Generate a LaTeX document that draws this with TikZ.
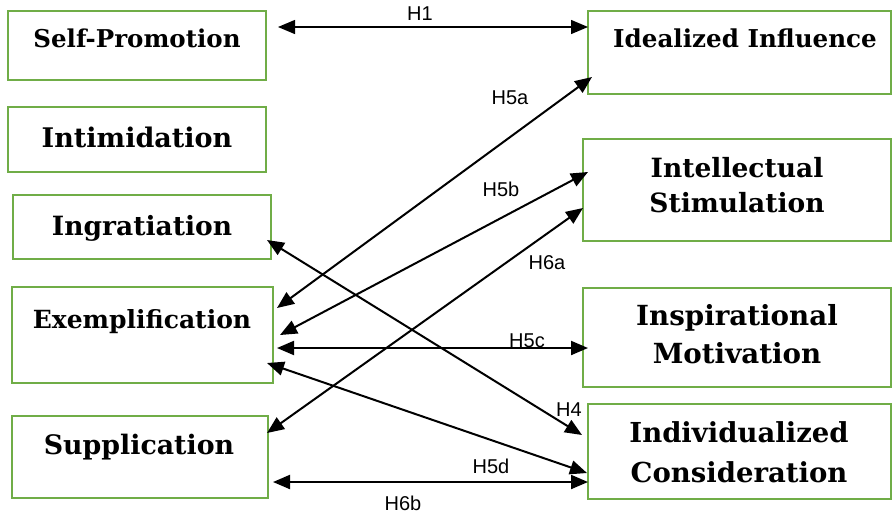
\documentclass[tikz,border=0pt]{standalone}
\usepackage{fontspec}
\setmainfont{DejaVu Serif}
\newfontfamily\lblfont{Liberation Sans}
\usetikzlibrary{arrows.meta,calc}
\definecolor{boxgreen}{HTML}{70AD47}
\begin{document}
\begin{tikzpicture}[x=1pt,y=-1pt,
  box/.style={draw=boxgreen, line width=2pt, inner sep=0pt, outer sep=0pt, anchor=north west},
  ttl/.style={anchor=base, inner sep=0pt, align=center},
  hyp/.style={font=\lblfont\fontsize{20}{22}\selectfont, inner sep=0pt},
  link/.style={line width=2pt, {Triangle[length=17pt,width=14pt]}-{Triangle[length=17pt,width=14pt]}},
]
\useasboundingbox (0,0) rectangle (893,515);
% left boxes
\node[box, minimum width=258pt, minimum height=69pt] (sp) at (8,11) {};
\node[box, minimum width=258pt, minimum height=65pt] (im) at (8,107) {};
\node[box, minimum width=258pt, minimum height=64pt] (ig) at (13,195) {};
\node[box, minimum width=261pt, minimum height=96pt] (ex) at (12,287) {};
\node[box, minimum width=256pt, minimum height=82pt] (su) at (12,416) {};
% right boxes
\node[box, minimum width=303pt, minimum height=83pt] (ii) at (588,11) {};
\node[box, minimum width=308pt, minimum height=102pt] (is) at (583,139) {};
\node[box, minimum width=308pt, minimum height=99pt] (imo) at (583,288) {};
\node[box, minimum width=303pt, minimum height=95pt] (ic) at (588,404) {};
% titles
\node[ttl, font=\bfseries\fontsize{24.5}{30}\selectfont] (spt) at (137,47) {Self-Promotion};
\node[ttl, font=\bfseries\fontsize{27}{30}\selectfont] (imt) at (137,147) {Intimidation};
\node[ttl, font=\bfseries\fontsize{26.5}{30}\selectfont] (igt) at (142,235) {Ingratiation};
\node[ttl, font=\bfseries\fontsize{25}{30}\selectfont] (ext) at (142,328) {Exemplification};
\node[ttl, font=\bfseries\fontsize{26.8}{30}\selectfont] (sut) at (139,454) {Supplication};
\node[ttl, font=\bfseries\fontsize{24.6}{30}\selectfont] (iit) at (745,47) {Idealized Influence};
\node[ttl, font=\bfseries\fontsize{26.5}{35}\selectfont] (ist) at (737,212) {Intellectual\\Stimulation};
\node[ttl, font=\bfseries\fontsize{27.7}{38}\selectfont] (imot) at (737,363) {Inspirational\\Motivation};
\node[ttl, font=\bfseries\fontsize{27.5}{40}\selectfont] (ict) at (739,482) {Individualized\\Consideration};
% connectors
\draw[link, line width=1.3pt] ($(sp.north east)+(12,16)$) -- ($(ii.north west)+(0,16)$);
\draw[link] ($(ex.north east)+(4,21)$) -- ($(ii.south west)+(4,-17)$);
\draw[link] ($(ex.north east)+(7,48)$) -- ($(is.north west)+(5,33)$);
\draw[link] ($(su.north east)+(-1,17)$) -- ($(is.north west)+(0,69)$);
\draw[link] ($(ex.north east)+(4,61)$) -- ($(imo.north west)+(5,60)$);
\draw[link] ($(ig.south east)+(-4,-19)$) -- ($(ic.north west)+(-6,31)$);
\draw[link] ($(ex.south east)+(-6,-20)$) -- ($(ic.north west)+(-1,69)$);
\draw[link] ($(su.south east)+(5,-16)$) -- ($(ic.north west)+(0,78)$);
% labels
\node[hyp] (h1) at (420,14) {H1};
\node[hyp] (h5a) at (510,98) {H5a};
\node[hyp] (h5b) at (501,189) {H5b};
\node[hyp] (h6a) at (547,263) {H6a};
\node[hyp] (h5c) at (527,341) {H5c};
\node[hyp] (h4) at (569,410) {H4};
\node[hyp] (h5d) at (491,466) {H5d};
\node[hyp] (h6b) at (403,503) {H6b};
\end{tikzpicture}
\end{document}
